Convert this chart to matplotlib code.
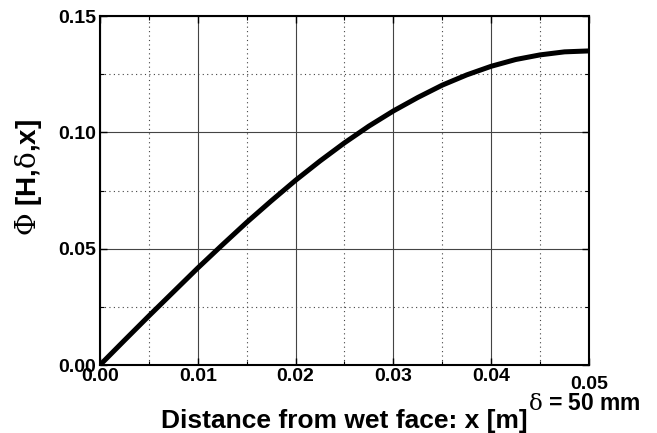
import matplotlib
matplotlib.use("Agg")
import matplotlib.pyplot as plt
from matplotlib.ticker import MultipleLocator
import matplotlib.transforms as mtransforms

plt.rcParams['font.family'] = ['Liberation Sans', 'DejaVu Sans']
plt.rcParams['mathtext.fontset'] = 'custom'
plt.rcParams['mathtext.rm'] = 'DejaVu Serif'
plt.rcParams['mathtext.it'] = 'DejaVu Serif:italic'
plt.rcParams['mathtext.bf'] = 'DejaVu Serif:bold'

# data
x_m = [0.0, 0.0025, 0.005, 0.0075, 0.01, 0.0125, 0.015, 0.0175, 0.02, 0.0225,
       0.025, 0.0275, 0.03, 0.0325, 0.035, 0.0375, 0.04, 0.0425, 0.045, 0.0475, 0.05]
phi = [0.0, 0.0106, 0.0211, 0.0314, 0.0417, 0.0516, 0.0613, 0.0705, 0.0794, 0.0877,
       0.0955, 0.1027, 0.1092, 0.1150, 0.1203, 0.1247, 0.1284, 0.1313, 0.1333, 0.1346, 0.1350]
x_ticks = [0.00, 0.01, 0.02, 0.03, 0.04, 0.05]
y_ticks = [0.00, 0.05, 0.10, 0.15]
x_label = "Distance from wet face: x [m]"
y_label = r"$\mathrm{\Phi}$ [H,$\mathrm{\delta}$,x]"
note = r"$\mathrm{\delta}$ = 50 mm"

fig = plt.figure(figsize=(6.57, 4.33), dpi=100)
ax = fig.add_axes([0.1522, 0.1570, 0.7443, 0.8060])

ax.plot(x_m, phi, color='black', lw=3.6, solid_capstyle='round', zorder=3)

ax.set_xlim(0, 0.05)
ax.set_ylim(0, 0.15)
ax.set_xticks(x_ticks)
ax.set_yticks(y_ticks)
ax.set_xticklabels([f"{v:.2f}" for v in x_ticks])
ax.set_yticklabels([f"{v:.2f}" for v in y_ticks])
ax.xaxis.set_minor_locator(MultipleLocator(0.005))
ax.yaxis.set_minor_locator(MultipleLocator(0.025))

ax.grid(which='major', color='#444444', lw=0.8, ls='-')
ax.grid(which='minor', color='#444444', lw=0.8, ls=(0, (1, 3)))

ax.tick_params(which='both', direction='in', top=True, right=True)
ax.tick_params(which='major', length=5, width=1.0, labelsize=14)
ax.tick_params(axis='x', which='major', pad=2)
ax.tick_params(axis='y', which='major', pad=3)
ax.tick_params(which='minor', length=3, width=0.8)
for lab in ax.get_xticklabels() + ax.get_yticklabels():
    lab.set_fontweight('bold')
# the last x tick label sits lower in the reference
last = ax.get_xticklabels()[-1]
last.set_transform(last.get_transform() + mtransforms.ScaledTranslation(0, -8 / 100, fig.dpi_scale_trans))
for s in ax.spines.values():
    s.set_linewidth(1.5)

ax.set_xlabel(x_label, fontsize=19, fontweight='bold', va='center')
ax.set_ylabel(y_label, fontsize=20, fontweight='bold', va='center')
ax.yaxis.set_label_coords(-0.147, 0.537)
ax.xaxis.set_label_coords(0.5, -0.16)

fig.text(0.890, 0.0531, note, fontsize=16.5, fontweight='bold', ha='center', va='baseline')

fig.savefig("out.png", dpi=100)
